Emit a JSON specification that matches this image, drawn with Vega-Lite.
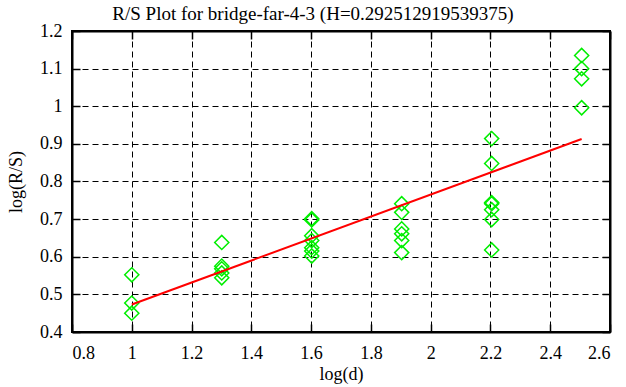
{
  "$schema": "https://vega.github.io/schema/vega-lite/v6.json",
  "autosize": "none",
  "width": 538,
  "height": 301,
  "padding": {"left": 72, "top": 31, "right": 16, "bottom": 55},
  "background": "white",
  "title": {"text": "R/S Plot for bridge-far-4-3 (H=0.292512919539375)", "font": "Liberation Serif", "fontSize": 19, "fontWeight": "normal", "color": "black", "offset": -2, "dx": -28},
  "config": {
    "view": {"stroke": "black", "strokeWidth": 2},
    "axis": {"labelFont": "Liberation Serif", "labelFontSize": 18, "titleFont": "Liberation Serif", "titleFontSize": 18, "titleFontWeight": "normal", "labelColor": "black", "titleColor": "black", "grid": true, "gridColor": "black", "gridDash": [6, 4], "gridOpacity": 1, "gridWidth": 1, "tickColor": "black", "tickSize": -8, "tickWidth": 1.5, "domain": true, "domainColor": "black", "domainWidth": 2, "labelPadding": 10}
  },
  "datasets": {
    "pts": [
      {"x": 1.0, "y": 0.552}, {"x": 1.0, "y": 0.477}, {"x": 1.0, "y": 0.45},
      {"x": 1.30103, "y": 0.638}, {"x": 1.30103, "y": 0.575}, {"x": 1.30103, "y": 0.568}, {"x": 1.30103, "y": 0.557}, {"x": 1.30103, "y": 0.544},
      {"x": 1.60206, "y": 0.701}, {"x": 1.60206, "y": 0.698}, {"x": 1.60206, "y": 0.656}, {"x": 1.60206, "y": 0.643}, {"x": 1.60206, "y": 0.624}, {"x": 1.60206, "y": 0.615}, {"x": 1.60206, "y": 0.602},
      {"x": 1.90309, "y": 0.741}, {"x": 1.90309, "y": 0.718}, {"x": 1.90309, "y": 0.674}, {"x": 1.90309, "y": 0.661}, {"x": 1.90309, "y": 0.643}, {"x": 1.90309, "y": 0.611},
      {"x": 2.20412, "y": 0.914}, {"x": 2.20412, "y": 0.848}, {"x": 2.20412, "y": 0.744}, {"x": 2.20412, "y": 0.741}, {"x": 2.20412, "y": 0.725}, {"x": 2.20412, "y": 0.699}, {"x": 2.20412, "y": 0.618},
      {"x": 2.50515, "y": 1.135}, {"x": 2.50515, "y": 1.1}, {"x": 2.50515, "y": 1.073}, {"x": 2.50515, "y": 0.996}
    ],
    "fit": [
      {"x": 1.0, "y": 0.473}, {"x": 2.50515, "y": 0.913}
    ]
  },
  "layer": [
    {
      "data": {"name": "pts"},
      "mark": {"type": "point", "shape": "diamond", "filled": false, "color": "#00ee00", "strokeWidth": 1.5, "size": 200, "opacity": 1},
      "encoding": {
        "x": {"field": "x", "type": "quantitative", "scale": {"domain": [0.8, 2.6], "nice": false, "zero": false}, "axis": {"title": "log(d)", "values": [0.8, 1, 1.2, 1.4, 1.6, 1.8, 2, 2.2, 2.4, 2.6], "format": "~g", "titlePadding": 3, "labelPadding": 20}},
        "y": {"field": "y", "type": "quantitative", "scale": {"domain": [0.4, 1.2], "nice": false, "zero": false}, "axis": {"title": "log(R/S)", "values": [0.4, 0.5, 0.6, 0.7, 0.8, 0.9, 1, 1.1, 1.2], "format": "~g", "titlePadding": 14, "labelPadding": 18}}
      }
    },
    {
      "data": {"name": "fit"},
      "mark": {"type": "line", "color": "red", "strokeWidth": 2},
      "encoding": {
        "x": {"field": "x", "type": "quantitative", "axis": {"orient": "top", "labels": false, "title": null, "grid": false, "values": [0.8, 1, 1.2, 1.4, 1.6, 1.8, 2, 2.2, 2.4, 2.6]}},
        "y": {"field": "y", "type": "quantitative", "axis": {"orient": "right", "labels": false, "title": null, "grid": false, "values": [0.4, 0.5, 0.6, 0.7, 0.8, 0.9, 1, 1.1, 1.2]}}
      }
    },
    {
      "data": {"values": [{}]},
      "mark": {"type": "rect", "filled": false, "stroke": "black", "strokeWidth": 2, "clip": false},
      "encoding": {
        "x": {"datum": 0.8, "type": "quantitative", "axis": null},
        "x2": {"datum": 2.6},
        "y": {"datum": 0.4, "type": "quantitative", "axis": null},
        "y2": {"datum": 1.2}
      }
    }
  ],
  "resolve": {"axis": {"x": "independent", "y": "independent"}}
}
